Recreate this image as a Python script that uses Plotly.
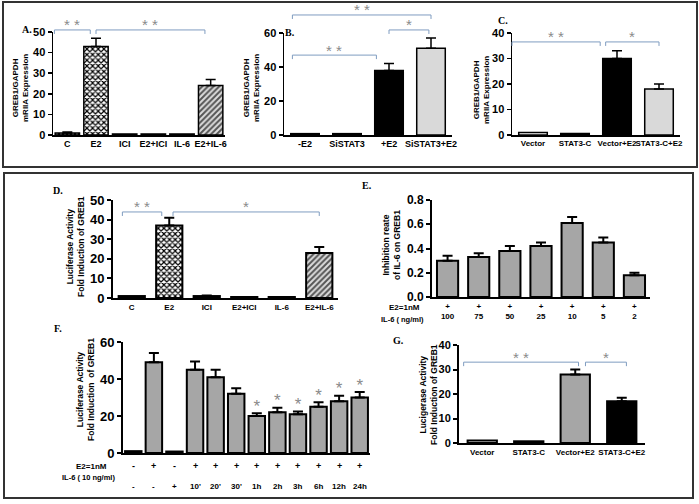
import plotly.graph_objects as go

W, H = 699, 504

# ---------------- data ----------------
a_cats = ["C", "E2", "ICI", "E2+ICI", "IL-6", "E2+IL-6"]
a_vals = [1.0, 43, 0.5, 0.5, 0.5, 24]
a_errs = [0.5, 4, 0, 0, 0, 3]

b_cats = ["-E2", "SiSTAT3", "+E2", "SiSTAT3+E2"]
b_vals = [0.8, 0.8, 38, 51]
b_errs = [0, 0, 4, 6]

c_cats = ["Vector", "STAT3-C", "Vector+E2", "STAT3-C+E2"]
c_vals = [1.0, 0.6, 30, 18]
c_errs = [0, 0, 3, 2]

d_cats = ["C", "E2", "ICI", "E2+ICI", "IL-6", "E2+IL-6"]
d_vals = [1.0, 37, 1.0, 0.5, 0.5, 23]
d_errs = [0, 4, 0.3, 0, 0, 3]

e_e2 = ["+", "+", "+", "+", "+", "+", "+"]
e_il6 = ["100", "75", "50", "25", "10", "5", "2"]
e_vals = [0.30, 0.33, 0.38, 0.42, 0.61, 0.45, 0.18]
e_errs = [0.04, 0.03, 0.04, 0.03, 0.05, 0.04, 0.02]

f_e2 = ["-", "+", "-", "+", "+", "+", "+", "+", "+", "+", "+", "+"]
f_il6 = ["-", "-", "+", "10'", "20'", "30'", "1h", "2h", "3h", "6h", "12h", "24h"]
f_vals = [1.0, 49, 0.8, 45, 41, 32, 20, 22, 21, 25, 28, 30]
f_errs = [0, 5, 0, 4.5, 4, 3, 1.5, 2.5, 1.5, 2.5, 3, 3]
f_sig = [False, False, False, False, False, False, True, True, True, True, True, True]

g_cats = ["Vector", "STAT3-C", "Vector+E2", "STAT3-C+E2"]
g_vals = [1.0, 0.7, 28, 17]
g_errs = [0, 0, 2, 1.5]

FONT = "Arial, Liberation Sans, sans-serif"
SERIF = "Times New Roman, Liberation Serif, serif"
LG = "#d9d9d9"
MG = "#a6a6a6"
HG = "#dcdcdc"


def pxx(x):
    return x / W


def pxy(y):
    return 1 - y / H


# panel layout: x px domain, y0 px (value 0), ytop px (value top)
panels = {
    "A": dict(ax=1, x=(53, 225), y0=135, yt=32, top=50, dt=10, bw=0.85, lw=1.5, tf=11, cf=9,
              cats=a_cats, vals=a_vals, errs=a_errs,
              fill=["white", "white", "white", "white", "white", HG],
              shape=[".", "x", "", "", "", "/"],
              fg=["black", "black", "black", "black", "black", "#555555"]),
    "B": dict(ax=2, x=(284, 452), y0=135, yt=33, top=60, dt=20, bw=0.68, lw=1.5, tf=11, cf=9,
              cats=b_cats, vals=b_vals, errs=b_errs,
              fill=["white", "white", "black", LG], shape=[""] * 4, fg=["black"] * 4),
    "C": dict(ax=3, x=(512, 680), y0=135, yt=33, top=40, dt=10, bw=0.68, lw=1.5, tf=11, cf=8,
              cats=c_cats, vals=c_vals, errs=c_errs,
              fill=["white", "white", "black", LG], shape=[""] * 4, fg=["black"] * 4),
    "D": dict(ax=4, x=(113, 338), y0=298, yt=200, top=50, dt=10, bw=0.7, lw=2, tf=13, cf=8,
              cats=d_cats, vals=d_vals, errs=d_errs,
              fill=["white", "white", "white", "white", "white", HG],
              shape=[".", "x", "", "", "", "/"],
              fg=["black", "black", "black", "black", "black", "#555555"]),
    "E": dict(ax=5, x=(432, 650), y0=297, yt=200, top=0.8, dt=0.2, bw=0.68, lw=2, tf=12, cf=8,
              cats=[a + "<br>" + b for a, b in zip(e_e2, e_il6)], vals=e_vals, errs=e_errs,
              fill=[MG] * 7, shape=[""] * 7, fg=["black"] * 7),
    "F": dict(ax=6, x=(123, 370), y0=453, yt=342, top=60, dt=20, bw=0.8, lw=2, tf=13, cf=8,
              cats=f_il6, vals=f_vals, errs=f_errs,
              fill=[MG] * 12, shape=[""] * 12, fg=["black"] * 12),
    "G": dict(ax=7, x=(459, 645), y0=443, yt=345, top=40, dt=10, bw=0.63, lw=2, tf=11, cf=8,
              cats=g_cats, vals=g_vals, errs=g_errs,
              fill=["white", "white", MG, "black"], shape=[""] * 4, fg=["black"] * 4),
}

fig = go.Figure()
layout = dict(width=W, height=H, margin=dict(l=0, r=0, t=0, b=0, pad=0), autosize=False,
              template="none",
              paper_bgcolor="white", plot_bgcolor="white", showlegend=False,
              font=dict(family=FONT, color="black"), bargap=0)

for key, p in panels.items():
    n = len(p["vals"])
    sfx = "" if p["ax"] == 1 else str(p["ax"])
    for i in range(n):
        pat = dict(shape=p["shape"][i], fgcolor=p["fg"][i], bgcolor=p["fill"][i],
                   size=4, solidity=0.5) if p["shape"][i] else None
        fig.add_trace(go.Bar(
            x=[i], y=[p["vals"][i]], width=p["bw"], xaxis="x" + sfx, yaxis="y" + sfx,
            marker=dict(color=p["fill"][i], line=dict(color="black", width=p["lw"]),
                        pattern=pat),
            error_y=dict(type="data", symmetric=False, array=[p["errs"][i]], arrayminus=[0],
                         color="black", thickness=p["lw"], width=5,
                         visible=p["errs"][i] > 0),
        ))
    layout["xaxis" + sfx] = dict(
        domain=[pxx(p["x"][0]), pxx(p["x"][1])], anchor="y" + sfx, automargin=False,
        range=[-0.5, n - 0.5], tickmode="array", tickvals=list(range(n)), ticktext=p["cats"],
        showticklabels=(key != "F"), ticks="", showline=True, linecolor="black",
        linewidth=p["lw"], showgrid=False, zeroline=False, tickangle=0,
        tickfont=dict(size=p["cf"], family=FONT, weight="bold"), fixedrange=True)
    layout["yaxis" + sfx] = dict(
        domain=[pxy(p["y0"]), pxy(p["yt"])], anchor="x" + sfx, automargin=False,
        range=[0, p["top"]], dtick=p["dt"], tick0=0, ticks="outside", ticklen=4,
        tickwidth=p["lw"], tickcolor="black", showline=True, linecolor="black",
        linewidth=p["lw"], showgrid=False, zeroline=False,
        tickformat=".1f" if key == "E" else "d",
        tickfont=dict(size=p["tf"], family=FONT, weight="bold"), fixedrange=True)


def cat_px(key, pos):
    p = panels[key]
    n = len(p["vals"])
    return p["x"][0] + (pos + 0.5) / n * (p["x"][1] - p["x"][0])


def val_px(key, v):
    p = panels[key]
    return p["y0"] - v / p["top"] * (p["y0"] - p["yt"])


# significance brackets: panel, from, to, level (data units), label, end offsets
brackets = [
    ("A", 0, 1, 51, "* *", -0.45, -0.2),
    ("A", 1, 5, 51, "* *", 0.0, -0.2),
    ("B", 0, 2, 47, "* *", -0.3, -0.3),
    ("B", 0, 3, 70.6, "* *", -0.3, 0.0),
    ("B", 2, 3, 61.8, "*", 0.0, -0.05),
    ("C", 0, 2, 36.5, "* *", -0.5, -0.4),
    ("C", 2, 3, 36.5, "*", -0.27, 0.0),
    ("D", 0, 1, 43.9, "* *", -0.25, -0.2),
    ("D", 1, 5, 43.9, "*", 0.1, 0.0),
    ("G", 0, 2, 33, "* *", -0.4, 0.07),
    ("G", 2, 3, 33, "*", 0.22, 0.1),
]

shapes = []
annotations = []
BR = "#7f9cc0"


def ann(x, y, text, size, family=FONT, color="black", angle=0, xref="paper", bold=True):
    annotations.append(dict(
        x=x, y=y, xref=xref, yref="paper", text=text, showarrow=False,
        xanchor="center", yanchor="middle", textangle=angle,
        font=dict(size=size, family=family, color=color,
                  weight="bold" if bold else "normal")))


for key, i0, i1, lev, lab, o0, o1 in brackets:
    xl = cat_px(key, i0 + o0)
    xr = cat_px(key, i1 + o1)
    yl = val_px(key, lev)
    path = "M {a},{b} L {a},{c} L {d},{c} L {d},{b}".format(
        a=pxx(xl), b=pxy(yl + 4), c=pxy(yl), d=pxx(xr))
    shapes.append(dict(type="path", path=path, xref="paper", yref="paper",
                       line=dict(color=BR, width=1)))
    ann(pxx((xl + xr) / 2), pxy(yl - 5), lab, 15, color="#8a8a8a", bold=False)

# stars above F bars
fig.add_trace(go.Scatter(
    x=[i for i, s in enumerate(f_sig) if s],
    y=[v + e + 3 for v, e, s in zip(f_vals, f_errs, f_sig) if s],
    mode="text", text=["*"] * sum(f_sig), textposition="middle center",
    textfont=dict(size=17, color="#8a8a8a", family=FONT),
    xaxis="x6", yaxis="y6", cliponaxis=False, hoverinfo="skip"))

# F condition rows
for i, s in enumerate(f_e2):
    ann(i, pxy(466), s, 9, xref="x6")
for i, s in enumerate(f_il6):
    ann(i, pxy(486), s, 8, xref="x6")

texts = [
    ("E2=1nM", 91, 466, 8),
    ("IL-6 ( 10 ng/ml)", 88, 477, 7.5),
    ("E2=1nM", 404, 307, 8),
    ("IL-6 ( ng/ml)", 402, 319, 7.5),
]
for t, x, y, s in texts:
    ann(pxx(x), pxy(y), t, s)

# y titles
ytitles = [
    ("GREB1/GAPDH<br>mRIIA Expression", 20, 88, 8),
    ("GREB1/GAPDH<br>mRIIA Expression", 251, 88, 8),
    ("GREB1/GAPDH<br>mRIIA Expression", 481, 90, 8),
    ("Luciferase Activity<br>Fold Induction of GREB1", 75, 247, 8.5),
    ("Inhibition reate<br>of IL-6 on GREB1", 391, 245, 8.5),
    ("Luciferase Activity<br>Fold Induction  of GREB1", 85, 390, 8.5),
    ("Lucigerase Activity<br>Fold Induction of GREB1", 428, 395, 8.5),
]
for t, x, y, s in ytitles:
    ann(pxx(x), pxy(y), t, s, angle=-90)

# panel letters
letters = [("A.", 27, 29), ("B.", 290, 33), ("C.", 503, 21), ("D.", 58, 190),
           ("E.", 367, 185), ("F.", 58, 328), ("G.", 398, 340)]
for t, x, y in letters:
    ann(pxx(x), pxy(y), t, 10, family=SERIF)

# frames
for x0, y0, x1, y1 in [(3, 2, 697, 167), (4, 173, 693, 498)]:
    shapes.append(dict(type="rect", xref="paper", yref="paper",
                       x0=pxx(x0), y0=pxy(y0), x1=pxx(x1), y1=pxy(y1),
                       line=dict(color="#333333", width=2)))

layout["shapes"] = shapes
layout["annotations"] = annotations
fig.update_layout(**layout)
fig.write_html("out.html", config={"displayModeBar": False, "staticPlot": True},
               post_script="document.body.style.margin='0';document.body.style.overflow='hidden';")
